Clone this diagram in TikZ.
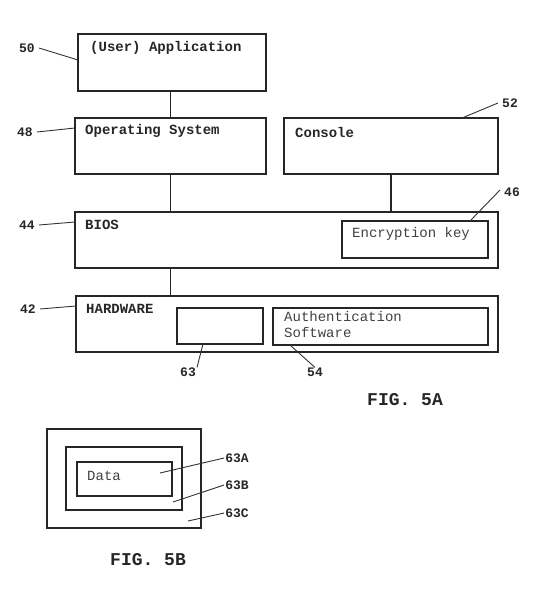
\documentclass[tikz,border=0pt]{standalone}
\usepackage{fontspec}
\setmainfont{Liberation Mono}
\usetikzlibrary{calc}
\begin{document}
\begin{tikzpicture}[x=1pt,y=-1pt,
  ln/.style={line width=1.1pt,draw=black!85},
  box/.style={ln,rectangle,inner sep=0pt},
  btxt/.style={anchor=west,inner sep=0pt,font=\fontsize{14}{16}\selectfont\bfseries,text=black!85},
  rtxt/.style={anchor=west,inner sep=0pt,font=\fontsize{14}{16}\selectfont,text=black!75},
  lbl/.style={inner sep=1pt,font=\fontsize{13}{15}\selectfont\bfseries,text=black!85},
  fig/.style={anchor=west,inner sep=0pt,font=\fontsize{18}{20}\selectfont\bfseries,text=black!85},
  leader/.style={line width=0.9pt,draw=black!80}]
\useasboundingbox (0,0) rectangle (541,600);
% boxes
\node[box,minimum width=188pt,minimum height=57pt] (app) at (172,62.5) {};
\node[box,minimum width=191pt,minimum height=56pt] (os) at (170.5,146) {};
\node[box,minimum width=214pt,minimum height=56pt] (console) at (391,146) {};
\node[box,minimum width=423pt,minimum height=56pt] (bios) at (286.5,240) {};
\node[box,minimum width=146pt,minimum height=37pt] (enc) at (415,239.5) {};
\node[box,minimum width=422pt,minimum height=56pt] (hw) at (287,324) {};
\node[box,minimum width=86pt,minimum height=36pt] (b63) at (220,326) {};
\node[box,minimum width=215pt,minimum height=37pt] (auth) at (380.5,326.5) {};
\node[box,minimum width=154pt,minimum height=99pt] (outer) at (124,478.5) {};
\node[box,minimum width=116pt,minimum height=63pt] (mid) at (124,478.5) {};
\node[box,minimum width=95pt,minimum height=34pt] (inner) at (124.5,479) {};
% texts
\node[btxt] (tapp) at (90,48) {(User) Application};
\node[btxt] (tos) at (85,131) {Operating System};
\node[btxt] (tcon) at (295,132) {Console};
\node[btxt] (tbios) at (85,225) {BIOS};
\node[rtxt] (tenc) at (352,234) {Encryption key};
\node[btxt] (thw) at (86,309) {HARDWARE};
\node[rtxt,align=left] (tauth) at (284,324) {Authentication\\Software};
\node[rtxt] (tdata) at (87,476) {Data};
\node[fig] (f5a) at (367,400) {FIG. 5A};
\node[fig] (f5b) at (110,560) {FIG. 5B};
% connectors
\draw[ln] (app.south -| os.south) -- (os.north);
\draw[ln] (os.south) -- (os.south |- bios.north);
\draw[ln] (console.south) -- (console.south |- bios.north);
\draw[ln] (os.south |- bios.south) -- (os.south |- hw.north);
% reference labels
\node[lbl] (l50) at (27,48) {50};
\node[lbl] (l48) at (25,132) {48};
\node[lbl] (l52) at (510,103) {52};
\node[lbl] (l46) at (512,192) {46};
\node[lbl] (l44) at (27,225) {44};
\node[lbl] (l42) at (28,309) {42};
\node[lbl] (l63) at (188,372) {63};
\node[lbl] (l54) at (315,372) {54};
\node[lbl] (l63a) at (237,458) {63A};
\node[lbl] (l63b) at (237,485) {63B};
\node[lbl] (l63c) at (237,513) {63C};
% leader end points
\coordinate (p50) at (78,60);
\coordinate (p48) at (75,128);
\coordinate (p52) at (462,118);
\coordinate (p46) at (470,221);
\coordinate (p44) at (75,222);
\coordinate (p42) at (76,306);
\coordinate (p63) at (203,344);
\coordinate (p54) at (290,345);
\coordinate (p63a) at (160,473);
\coordinate (p63b) at (173,502);
\coordinate (p63c) at (188,521);
\draw[leader] ([xshift=3pt]l50.east) -- (p50);
\draw[leader] ([xshift=3pt]l48.east) -- (p48);
\draw[leader] ([xshift=-3pt]l52.west) -- (p52);
\draw[leader] ([xshift=-3pt,yshift=2pt]l46.west) -- (p46);
\draw[leader] ([xshift=3pt]l44.east) -- (p44);
\draw[leader] ([xshift=3pt]l42.east) -- (p42);
\draw[leader] ([yshift=-1pt]l63.north east) -- (p63);
\draw[leader] ([yshift=-1pt]l54.north) -- (p54);
\draw[leader] (l63a.west) -- (p63a);
\draw[leader] (l63b.west) -- (p63b);
\draw[leader] (l63c.west) -- (p63c);
\end{tikzpicture}
\end{document}
